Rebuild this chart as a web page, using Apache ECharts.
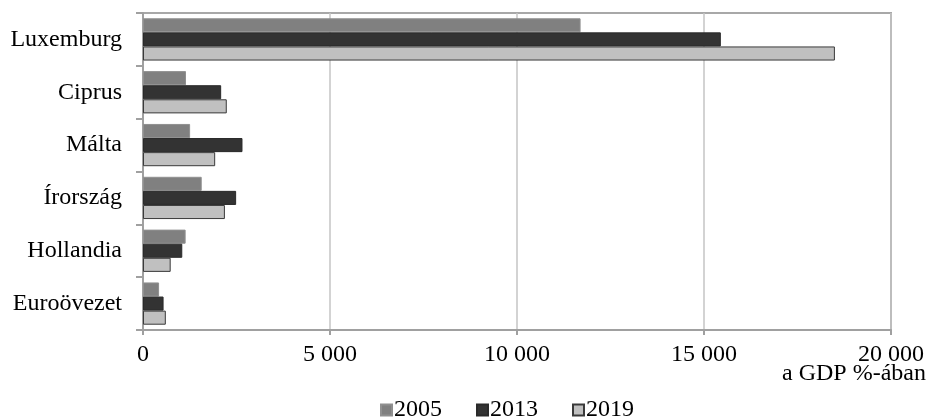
<!DOCTYPE html>
<html>
<head>
<meta charset="utf-8">
<script src="https://cdn.jsdelivr.net/npm/echarts@6/dist/echarts.min.js"></script>
<style>
  html, body { margin: 0; padding: 0; background: #fff; }
  #chart { width: 927px; height: 419px; }
</style>
</head>
<body>
<div id="chart"></div>
<script>
// országok felülről lefelé
var categories = ['Luxemburg', 'Ciprus', 'Málta', 'Írország', 'Hollandia', 'Euroövezet']
var years = ['2005', '2013', '2019']
var s2005 = [11700, 1150, 1260, 1570, 1140, 430]
var s2013 = [15450, 2090, 2660, 2490, 1050, 550]
var s2019 = [18500, 2240, 1930, 2190, 740, 610]
var xTicks = { min: 0, max: 20000, interval: 5000 }
var unitLabel = 'a GDP %-ában'

var font = "'Liberation Serif', 'Times New Roman', serif"

function fmt(v) {
  return String(v).replace(/\B(?=(\d{3})+(?!\d))/g, ' ')
}

var myChart = echarts.init(document.getElementById('chart'))
myChart.setOption({
  animation: false,
  textStyle: { fontFamily: font },
  title: {
    text: unitLabel,
    right: 1,
    top: 362,
    padding: 0,
    textStyle: { fontFamily: font, fontSize: 24, fontWeight: 'normal', color: '#000' }
  },
  legend: {
    data: years,
    left: 380,
    top: 398,
    padding: 0,
    itemWidth: 11,
    itemHeight: 11,
    itemGap: 34,
    icon: 'rect',
    textStyle: { fontFamily: font, fontSize: 24, color: '#000', padding: [0, 0, 0, -3] }
  },
  grid: {
    left: 143,
    right: 33,
    top: 13,
    bottom: 89,
    show: true,
    borderColor: '#a8a8a8',
    borderWidth: 2
  },
  xAxis: {
    type: 'value',
    min: xTicks.min,
    max: xTicks.max,
    interval: xTicks.interval,
    axisLine: { show: true, lineStyle: { color: '#a0a0a0', width: 2 } },
    axisTick: { show: true, length: 5, lineStyle: { color: '#a0a0a0', width: 2 } },
    axisLabel: { fontFamily: font, fontSize: 24, color: '#000', margin: 13, formatter: fmt },
    splitLine: { show: true, lineStyle: { color: '#c4c4c4', width: 1.5 } }
  },
  yAxis: {
    type: 'category',
    data: categories,
    inverse: true,
    axisLine: { show: true, lineStyle: { color: '#a0a0a0', width: 2 } },
    axisTick: { show: true, length: 7, lineStyle: { color: '#a0a0a0', width: 2 } },
    axisLabel: { fontFamily: font, fontSize: 24, color: '#000', margin: 21 }
  },
  series: [
    {
      name: years[0], type: 'bar', data: s2005,
      barCategoryGap: '20%', barGap: '0%',
      itemStyle: { color: '#808080', borderColor: '#909090', borderWidth: 1 }
    },
    {
      name: years[1], type: 'bar', data: s2013,
      barCategoryGap: '20%', barGap: '0%',
      itemStyle: { color: '#333333', borderColor: '#2a2a2a', borderWidth: 1 }
    },
    {
      name: years[2], type: 'bar', data: s2019,
      barCategoryGap: '20%', barGap: '0%',
      itemStyle: { color: '#c0c0c0', borderColor: '#3a3a3a', borderWidth: 1 }
    }
  ]
})
</script>
</body>
</html>
